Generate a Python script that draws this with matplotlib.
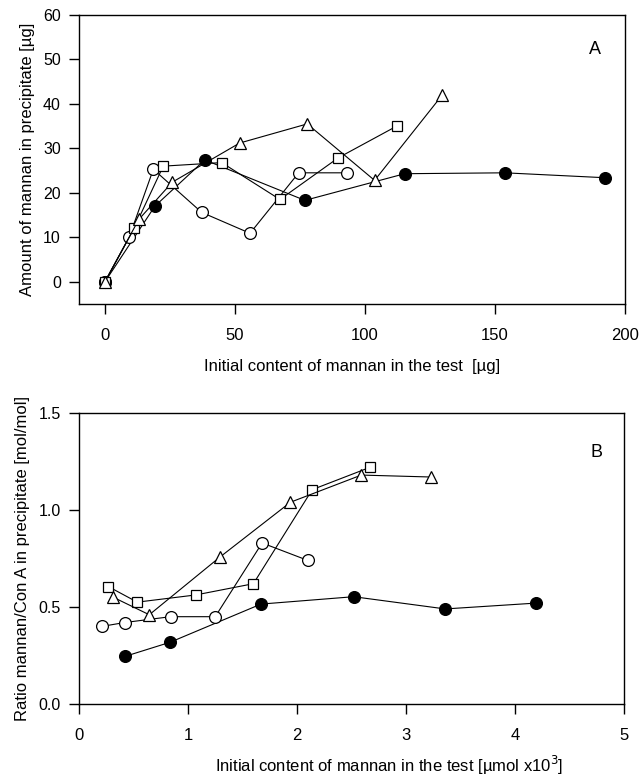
import matplotlib
matplotlib.use("Agg")
import matplotlib.pyplot as plt

plt.rcParams['font.family'] = ['Liberation Sans', 'DejaVu Sans']

# panel A: mannan in precipitate [ug] vs initial mannan [ug]
a_circle_x = [0, 9.3, 18.6, 37.2, 55.8, 74.5, 93.1]
a_circle_y = [0, 10.0, 25.3, 15.6, 10.9, 24.5, 24.5]
a_square_x = [0, 11.2, 22.4, 44.9, 67.3, 89.8, 112.2]
a_square_y = [0, 12.0, 26.0, 26.8, 18.5, 27.9, 35.0]
a_tri_x = [0, 13.0, 25.9, 51.8, 77.8, 103.7, 129.6]
a_tri_y = [0, 14.0, 22.4, 31.2, 35.5, 22.8, 41.9]
a_dot_x = [0, 19.2, 38.4, 76.9, 115.3, 153.8, 192.2]
a_dot_y = [0, 17.0, 27.4, 18.3, 24.3, 24.5, 23.4]

# panel B: ratio mannan/Con A vs initial mannan [umol x10^3]
b_circle_x = [0.21, 0.42, 0.84, 1.25, 1.68, 2.10]
b_circle_y = [0.40, 0.42, 0.45, 0.45, 0.83, 0.74]
b_square_x = [0.27, 0.535, 1.07, 1.60, 2.14, 2.67]
b_square_y = [0.605, 0.525, 0.562, 0.62, 1.105, 1.22]
b_tri_x = [0.315, 0.645, 1.29, 1.94, 2.59, 3.23]
b_tri_y = [0.55, 0.46, 0.756, 1.04, 1.18, 1.17]
b_dot_x = [0.42, 0.835, 1.67, 2.52, 3.36, 4.19]
b_dot_y = [0.245, 0.318, 0.515, 0.553, 0.49, 0.52]


def draw_series(ax, dot, circle, square, tri):
    line = dict(color='black', lw=0.8, markeredgecolor='black', markeredgewidth=0.9)
    ax.plot(*dot, marker='o', ms=8.5, markerfacecolor='black', **line)
    ax.plot(*circle, marker='o', ms=8.5, markerfacecolor='white', **line)
    ax.plot(*square, marker='s', ms=7.5, markerfacecolor='white', **line)
    ax.plot(*tri, marker='^', ms=8.5, markerfacecolor='white', **line)


def style(ax):
    for s in ax.spines.values():
        s.set_linewidth(1.0)
    ax.tick_params(direction='out', length=7, width=1)
    ax.tick_params(axis='x', labelsize=12, pad=10)
    ax.tick_params(axis='y', labelsize=11.5, pad=6)


fig = plt.figure(figsize=(6.4, 7.81), dpi=100)

axA = fig.add_axes([0.1234, 0.6108, 0.8531, 0.3700])
draw_series(axA, (a_dot_x, a_dot_y), (a_circle_x, a_circle_y),
            (a_square_x, a_square_y), (a_tri_x, a_tri_y))
axA.set_xlim(-10, 200)
axA.set_ylim(-5, 60)
axA.set_xticks([0, 50, 100, 150, 200])
axA.set_yticks(range(0, 61, 10))
style(axA)
axA.set_xlabel('Initial content of mannan in the test  [\u00b5g]', fontsize=12, labelpad=12)
axA.set_ylabel('Amount of mannan in precipitate [\u00b5g]', fontsize=12, labelpad=6)
axA.text(0.945, 0.879, 'A', transform=axA.transAxes, fontsize=13, ha='center', va='center')

axB = fig.add_axes([0.1234, 0.0986, 0.8516, 0.3726])
draw_series(axB, (b_dot_x, b_dot_y), (b_circle_x, b_circle_y),
            (b_square_x, b_square_y), (b_tri_x, b_tri_y))
axB.set_xlim(0, 5)
axB.set_ylim(0, 1.5)
axB.set_xticks(range(0, 6))
axB.set_yticks([0, 0.5, 1.0, 1.5])
axB.set_yticklabels(['0.0', '0.5', '1.0', '1.5'])
style(axB)
axB.set_xlabel('Initial content of mannan in the test [\u00b5mol x10$^3$]', fontsize=12)
axB.xaxis.set_label_coords(0.569, -0.172)
axB.set_ylabel('Ratio mannan/Con A in precipitate [mol/mol]', fontsize=12, labelpad=6)
axB.text(0.95, 0.864, 'B', transform=axB.transAxes, fontsize=13, ha='center', va='center')

fig.savefig('out.png', dpi=100)
